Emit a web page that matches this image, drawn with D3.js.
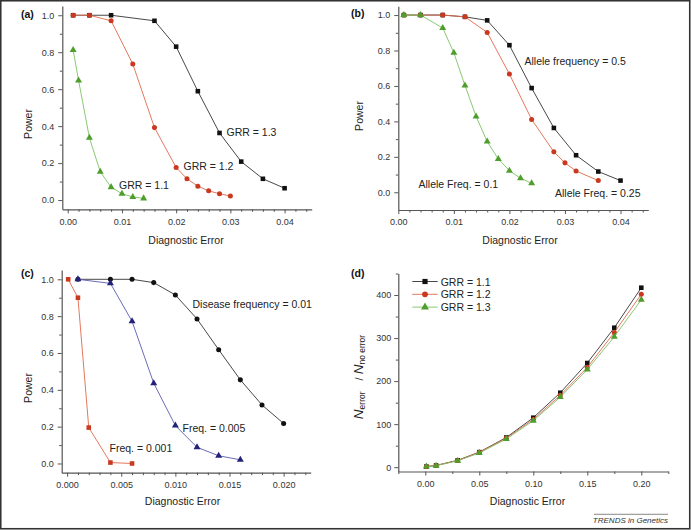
<!DOCTYPE html>
<html>
<head>
<meta charset="utf-8">
<script src="https://cdn.jsdelivr.net/npm/d3@7"></script>
<style>
  html, body { margin: 0; padding: 0; background: #fff; }
  svg { display: block; font-family: "Liberation Sans", Arial, sans-serif; }
</style>
</head>
<body>
<svg id="chart" width="691" height="530"></svg>
<script>
// ---------- DATA ----------
// Panel (a): power vs diagnostic error for GRR values
const aGrr13X = [0.001, 0.004, 0.008, 0.016, 0.020, 0.024, 0.028, 0.032, 0.036, 0.040];
const aGrr13Y = [1.0, 1.0, 1.0, 0.970, 0.830, 0.589, 0.363, 0.208, 0.115, 0.064];
const aGrr12X = [0.001, 0.004, 0.008, 0.012, 0.016, 0.020, 0.022, 0.024, 0.026, 0.028, 0.030];
const aGrr12Y = [1.0, 1.0, 0.970, 0.736, 0.392, 0.176, 0.115, 0.075, 0.050, 0.034, 0.022];
const aGrr11X = [0.001, 0.002, 0.004, 0.006, 0.008, 0.010, 0.012, 0.014];
const aGrr11Y = [0.812, 0.647, 0.337, 0.153, 0.070, 0.034, 0.017, 0.009];

// Panel (b): allele frequencies
const bAf05X = [0.001, 0.004, 0.008, 0.012, 0.016, 0.020, 0.024, 0.028, 0.032, 0.036, 0.040];
const bAf05Y = [1.0, 1.0, 1.0, 0.990, 0.970, 0.830, 0.588, 0.363, 0.209, 0.117, 0.066];
const bAf025X = [0.001, 0.004, 0.008, 0.012, 0.016, 0.020, 0.024, 0.028, 0.030, 0.032, 0.036];
const bAf025Y = [1.0, 1.0, 1.0, 0.990, 0.902, 0.667, 0.411, 0.228, 0.166, 0.120, 0.066];
const bAf01X = [0.001, 0.004, 0.008, 0.010, 0.012, 0.014, 0.016, 0.018, 0.020, 0.022, 0.024];
const bAf01Y = [1.0, 1.0, 0.927, 0.787, 0.603, 0.428, 0.286, 0.188, 0.122, 0.079, 0.051];

// Panel (c): disease frequencies
const cDf001X = [0.001, 0.004, 0.006, 0.008, 0.010, 0.012, 0.014, 0.016, 0.018, 0.020];
const cDf001Y = [1.0, 1.0, 1.0, 0.982, 0.915, 0.785, 0.618, 0.454, 0.318, 0.217];
const cDf0005X = [0.001, 0.004, 0.006, 0.008, 0.010, 0.012, 0.014, 0.016];
const cDf0005Y = [1.0, 0.978, 0.772, 0.436, 0.206, 0.088, 0.042, 0.020];
const cDf0001X = [0.0001, 0.001, 0.002, 0.004, 0.006];
const cDf0001Y = [1.0, 0.900, 0.195, 0.005, 0.0];

// Panel (d): N_error / N_no error
const dX = [0.001, 0.01, 0.03, 0.05, 0.075, 0.10, 0.125, 0.15, 0.175, 0.20];
const dGrr11 = [1.5, 4, 16, 35, 69, 115, 173, 242, 324, 417];
const dGrr12 = [1.5, 4, 15.5, 34.5, 67.5, 111, 167, 232, 313, 402];
const dGrr13 = [1.5, 3.5, 15, 33, 65.5, 108, 163, 227, 303, 389];
const dLegend = ["GRR = 1.1", "GRR = 1.2", "GRR = 1.3"];

// Tick values
const abXTicks = [0, 0.01, 0.02, 0.03, 0.04];
const powerTicks = [0, 0.2, 0.4, 0.6, 0.8, 1.0];
const cXTicks = [0, 0.005, 0.010, 0.015, 0.020];
const dXTicks = [0, 0.05, 0.10, 0.15, 0.20];
const dYTicks = [0, 100, 200, 300, 400];

// ---------- STYLE ----------
const COL = {
  black: { m: "#111111", l: "#333333" },
  red:   { m: "#c8391f", l: "#e0694c" },
  green: { m: "#4f9e2c", l: "#7dc263" },
  navy:  { m: "#22227a", l: "#5a5ab0" }
};
const SYM = { square: d3.symbolSquare, circle: d3.symbolCircle, triangle: d3.symbolTriangle };
const SYMSIZE = { square: 21, circle: 20, triangle: 21 };

const svg = d3.select("#chart");

// frame
svg.append("rect").attr("x", 0.75).attr("y", 0.75).attr("width", 689).attr("height", 528)
  .attr("fill", "none").attr("stroke", "#333").attr("stroke-width", 1.6);

function zip(xs, ys) { return xs.map((x, i) => ({ x: x, y: ys[i] })); }

function panel(cfg) {
  const g = svg.append("g");
  const x = d3.scaleLinear().domain(cfg.xDomain).range(cfg.xRange);
  const y = d3.scaleLinear().domain(cfg.yDomain).range(cfg.yRange);

  // minor ticks
  const xMinor = d3.axisBottom(x).tickValues(cfg.xMinor).tickSize(2.5).tickFormat("");
  const yMinor = d3.axisLeft(y).tickValues(cfg.yMinor).tickSize(2.5).tickFormat("");
  g.append("g").attr("transform", `translate(0,${cfg.yRange[0]})`).call(xMinor)
    .call(s => s.select(".domain").remove()).selectAll("line").attr("stroke", "#555");
  g.append("g").attr("transform", `translate(${cfg.xRange[0]},0)`).call(yMinor)
    .call(s => s.select(".domain").remove()).selectAll("line").attr("stroke", "#555");

  const xAxis = d3.axisBottom(x).tickValues(cfg.xTicks).tickSize(4).tickSizeOuter(0)
    .tickPadding(5).tickFormat(d3.format(cfg.xFmt));
  const yAxis = d3.axisLeft(y).tickValues(cfg.yTicks).tickSize(4).tickSizeOuter(0)
    .tickPadding(cfg.yPad || 4).tickFormat(d3.format(cfg.yFmt));
  const gx = g.append("g").attr("transform", `translate(0,${cfg.yRange[0]})`).call(xAxis);
  const gy = g.append("g").attr("transform", `translate(${cfg.xRange[0]},0)`).call(yAxis);
  [gx, gy].forEach(a => {
    a.select(".domain").attr("stroke", "#555").attr("stroke-width", 1.2);
    a.selectAll(".tick line").attr("stroke", "#555");
    a.selectAll(".tick text").attr("font-size", 9).attr("fill", "#333")
      .attr("font-family", '"Liberation Sans", Arial, sans-serif');
  });

  // series
  const line = d3.line().x(d => x(d.x)).y(d => y(d.y));
  cfg.series.forEach(s => {
    const data = zip(s.x, s.y);
    g.append("path").datum(data).attr("d", line).attr("fill", "none")
      .attr("stroke", COL[s.color].l).attr("stroke-width", 0.9);
    g.selectAll(null).data(data).enter().append("path")
      .attr("d", d3.symbol().type(SYM[s.sym]).size(SYMSIZE[s.sym]))
      .attr("transform", d => `translate(${x(d.x)},${y(d.y)})`)
      .attr("fill", COL[s.color].m);
  });

  // panel letter
  g.append("text").attr("x", cfg.letterPos[0]).attr("y", cfg.letterPos[1])
    .attr("font-size", 10.5).attr("font-weight", "bold").attr("fill", "#111").text(cfg.letter);

  // x title
  g.append("text").attr("x", cfg.xTitlePos[0]).attr("y", cfg.xTitlePos[1])
    .attr("text-anchor", "middle").attr("font-size", 10.5).attr("fill", "#222")
    .text("Diagnostic Error");

  // annotations
  (cfg.labels || []).forEach(l => {
    g.append("text").attr("x", l.x).attr("y", l.y).attr("font-size", 10.5)
      .attr("fill", "#222").text(l.t);
  });
  return { g, x, y };
}

function powerTitle(cx, cy) {
  svg.append("text").attr("transform", `translate(${cx},${cy}) rotate(-90)`)
    .attr("text-anchor", "middle").attr("font-size", 10.5).attr("fill", "#222").text("Power");
}

// ---------- PANEL (a) ----------
panel({
  xDomain: [-0.001, 0.045], xRange: [62.3, 311.7],
  yDomain: [-0.05, 1.05], yRange: [209.3, 6],
  xTicks: abXTicks, xMinor: d3.range(0, 0.0451, 0.002).filter(v => Math.abs(v / 0.01 - Math.round(v / 0.01)) > 1e-6),
  yTicks: powerTicks, yMinor: [0.1, 0.3, 0.5, 0.7, 0.9],
  xFmt: ".2f", yFmt: ".1f",
  letter: "(a)", letterPos: [21, 18],
  xTitlePos: [186, 244],
  series: [
    { x: aGrr13X, y: aGrr13Y, color: "black", sym: "square" },
    { x: aGrr12X, y: aGrr12Y, color: "red", sym: "circle" },
    { x: aGrr11X, y: aGrr11Y, color: "green", sym: "triangle" }
  ],
  labels: [
    { x: 226.5, y: 136, t: "GRR = 1.3" },
    { x: 183.5, y: 170, t: "GRR = 1.2" },
    { x: 119, y: 189, t: "GRR = 1.1" }
  ]
});
powerTitle(31.5, 124);

// ---------- PANEL (b) ----------
panel({
  xDomain: [0, 0.045], xRange: [398.3, 648.3],
  yDomain: [-0.1, 1.05], yRange: [210, 6.2],
  xTicks: abXTicks, xMinor: d3.range(0, 0.0451, 0.002).filter(v => Math.abs(v / 0.01 - Math.round(v / 0.01)) > 1e-6),
  yTicks: powerTicks, yMinor: [0.1, 0.3, 0.5, 0.7, 0.9],
  xFmt: ".2f", yFmt: ".1f",
  letter: "(b)", letterPos: [351, 17],
  xTitlePos: [520, 244],
  series: [
    { x: bAf05X, y: bAf05Y, color: "black", sym: "square" },
    { x: bAf025X, y: bAf025Y, color: "red", sym: "circle" },
    { x: bAf01X, y: bAf01Y, color: "green", sym: "triangle" }
  ],
  labels: [
    { x: 524.5, y: 65, t: "Allele frequency = 0.5" },
    { x: 418.5, y: 187.5, t: "Allele Freq. = 0.1" },
    { x: 555, y: 197, t: "Allele Freq. = 0.25" }
  ]
});
powerTitle(362.5, 116);

// ---------- PANEL (c) ----------
panel({
  xDomain: [-0.0005, 0.0225], xRange: [61.7, 310.7],
  yDomain: [-0.05, 1.05], yRange: [472.7, 270.1],
  xTicks: cXTicks, xMinor: d3.range(0, 0.0226, 0.001).filter(v => Math.abs(v / 0.005 - Math.round(v / 0.005)) > 1e-6),
  yTicks: powerTicks, yMinor: [0.1, 0.3, 0.5, 0.7, 0.9],
  xFmt: ".3f", yFmt: ".1f",
  letter: "(c)", letterPos: [21, 277],
  xTitlePos: [182.5, 505],
  series: [
    { x: cDf001X, y: cDf001Y, color: "black", sym: "circle" },
    { x: cDf0005X, y: cDf0005Y, color: "navy", sym: "triangle" },
    { x: cDf0001X, y: cDf0001Y, color: "red", sym: "square" }
  ],
  labels: [
    { x: 192.5, y: 308, t: "Disease frequency = 0.01" },
    { x: 182.5, y: 431.5, t: "Freq. = 0.005" },
    { x: 109.5, y: 452, t: "Freq. = 0.001" }
  ]
});
powerTitle(31.5, 388);

// ---------- PANEL (d) ----------
panel({
  xDomain: [-0.025, 0.225], xRange: [398.3, 668.3],
  yDomain: [-10, 450], yRange: [471.5, 273.5],
  xTicks: dXTicks, xMinor: [-0.025, 0.025, 0.075, 0.125, 0.175, 0.225],
  yTicks: dYTicks, yMinor: [50, 150, 250, 350, 450],
  xFmt: ".2f", yFmt: "d", yPad: 3,
  letter: "(d)", letterPos: [351, 277],
  xTitlePos: [527.5, 505],
  series: [
    { x: dX, y: dGrr11, color: "black", sym: "square" },
    { x: dX, y: dGrr12, color: "red", sym: "circle" },
    { x: dX, y: dGrr13, color: "green", sym: "triangle" }
  ],
  labels: []
});

// legend (d)
const legItems = [
  { t: dLegend[0], color: "black", sym: "square" },
  { t: dLegend[1], color: "red", sym: "circle" },
  { t: dLegend[2], color: "green", sym: "triangle" }
];
legItems.forEach((it, i) => {
  const yy = 281.5 + i * 12.8;
  svg.append("line").attr("x1", 412.3).attr("x2", 437.7).attr("y1", yy).attr("y2", yy)
    .attr("stroke", COL[it.color].l).attr("stroke-width", 0.9);
  svg.append("path").attr("d", d3.symbol().type(SYM[it.sym]).size(SYMSIZE[it.sym] + 6)())
    .attr("transform", `translate(425,${yy})`).attr("fill", COL[it.color].m);
  svg.append("text").attr("x", 440.7).attr("y", yy + 4).attr("font-size", 10.5)
    .attr("fill", "#222").text(it.t);
});

// y title (d): N_error / N_no error
const yt = svg.append("text").attr("transform", "translate(362.5,377) rotate(-90)")
  .attr("text-anchor", "middle").attr("fill", "#222").attr("font-size", 13.5);
yt.append("tspan").attr("font-style", "italic").text("N");
yt.append("tspan").attr("font-size", 8.5).attr("dy", 2.8).text("error");
yt.append("tspan").attr("dy", -2.8).attr("font-size", 11).text("\u2003/ ");
yt.append("tspan").attr("font-style", "italic").text("N");
yt.append("tspan").attr("font-size", 8.5).attr("dy", 2.8).text("no error");

// credit
svg.append("line").attr("x1", 594).attr("x2", 668).attr("y1", 514.3).attr("y2", 514.3)
  .attr("stroke", "#555").attr("stroke-width", 0.7);
svg.append("text").attr("x", 668).attr("y", 522.5).attr("text-anchor", "end")
  .attr("font-size", 8).attr("font-style", "italic").attr("fill", "#333")
  .text("TRENDS in Genetics");
</script>
</body>
</html>
